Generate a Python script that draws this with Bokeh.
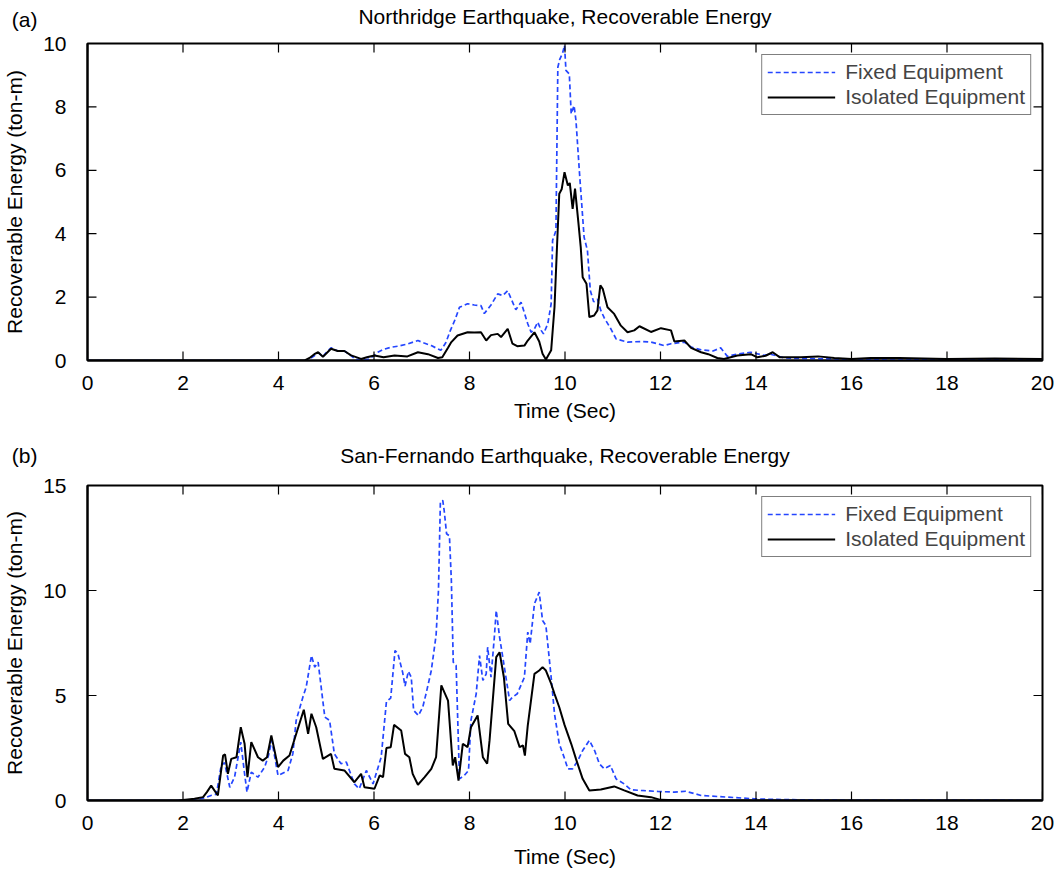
from bokeh.plotting import figure
from bokeh.models import Range1d, Legend, LegendItem, SingleIntervalTicker, FixedTicker
from bokeh.core.properties import value
from bokeh.layouts import column
from bokeh.embed import file_html
from bokeh.resources import INLINE

# ---------------- data ----------------
# (a) Northridge
north_fixed_t = [0, 4.55, 4.65, 4.75, 4.83, 4.93, 5.0, 5.1, 5.24, 5.38, 5.5, 5.6, 5.75, 5.9, 6.0, 6.08,
                 6.2, 6.36, 6.5, 6.7, 6.92, 7.05, 7.2, 7.4, 7.5, 7.6, 7.7, 7.79, 7.96, 8.1, 8.24, 8.31,
                 8.45, 8.59, 8.7, 8.8, 8.9, 8.97, 9.08, 9.15, 9.22, 9.29, 9.36, 9.43, 9.5, 9.55, 9.64,
                 9.71, 9.74, 9.81, 9.85, 9.89, 9.95, 9.99, 10.02, 10.09, 10.13, 10.19, 10.23, 10.3,
                 10.4, 10.47, 10.53, 10.6, 10.68, 10.75, 10.82, 10.96, 11.07, 11.31, 11.6, 11.8,
                 12.08, 12.22, 12.5, 12.64, 12.85, 13.1, 13.26, 13.4, 13.6, 13.89, 14.17, 14.3, 14.6,
                 15.0, 16.0, 17.0, 18.0, 19.0, 20.0]
north_fixed_e = [0.0, 0.0, 0.05, 0.15, 0.25, 0.12, 0.25, 0.40, 0.30, 0.30, 0.18, 0.05, 0.0, 0.05, 0.15, 0.26,
                 0.35, 0.42, 0.45, 0.52, 0.63, 0.55, 0.47, 0.32, 0.55, 0.95, 1.3, 1.68, 1.79, 1.75, 1.73, 1.48,
                 1.75, 2.1, 2.05, 2.2, 1.85, 1.6, 1.84, 1.5, 1.16, 0.89, 1.0, 1.21, 0.95, 0.84, 1.16,
                 1.79, 3.79, 4.1, 9.25, 9.5, 9.7, 9.94, 9.15, 9.04, 7.78, 8.04, 7.57, 5.99,
                 3.89, 3.47, 2.21, 1.85, 1.93, 1.58, 1.35, 1.0, 0.68, 0.58, 0.6, 0.58,
                 0.47, 0.53, 0.58, 0.42, 0.34, 0.3, 0.40, 0.13, 0.2, 0.26, 0.16, 0.2, 0.08,
                 0.06, 0.04, 0.05, 0.03, 0.04, 0.03]

north_iso_t = [0, 4.55, 4.65, 4.75, 4.83, 4.93, 5.0, 5.1, 5.24, 5.38, 5.52, 5.73, 5.85, 6.01, 6.2, 6.43,
               6.7, 6.92, 7.13, 7.34, 7.43, 7.55, 7.62, 7.75, 7.96, 8.1, 8.24, 8.35, 8.45, 8.59, 8.66,
               8.8, 8.9, 9.0, 9.15, 9.22, 9.36, 9.46, 9.53, 9.6, 9.71, 9.78, 9.83, 9.88, 9.93, 9.99,
               10.06, 10.1, 10.16, 10.21, 10.28, 10.33, 10.37, 10.45, 10.51, 10.61, 10.68, 10.74,
               10.79, 10.89, 11.03, 11.17, 11.31, 11.45, 11.56, 11.8, 12.01, 12.22, 12.29, 12.5,
               12.64, 12.85, 13.0, 13.19, 13.33, 13.61, 13.89, 14.03, 14.2, 14.35, 14.5, 14.94,
               15.3, 15.64, 16.0, 16.4, 17.0, 18.0, 19.0, 20.0]
north_iso_e = [0, 0, 0.08, 0.2, 0.26, 0.12, 0.22, 0.37, 0.30, 0.30, 0.16, 0.05, 0.1, 0.16, 0.10, 0.16,
               0.13, 0.26, 0.2, 0.08, 0.10, 0.4, 0.58, 0.79, 0.89, 0.88, 0.89, 0.63, 0.8, 0.84, 0.74,
               1.0, 0.53, 0.45, 0.47, 0.63, 0.89, 0.6, 0.21, 0.03, 0.32, 1.68, 3.5, 5.26, 5.4, 5.94,
               5.52, 5.6, 4.78, 5.42, 4.36, 3.57, 2.63, 2.42, 1.37, 1.42, 1.58, 2.37,
               2.26, 1.68, 1.47, 1.1, 0.89, 0.95, 1.08, 0.9, 1.02, 0.95, 0.6, 0.63,
               0.4, 0.26, 0.2, 0.08, 0.05, 0.16, 0.2, 0.1, 0.15, 0.26, 0.1, 0.1,
               0.13, 0.08, 0.05, 0.08, 0.08, 0.05, 0.06, 0.05]

# (b) San Fernando
sanf_fixed_t = [0, 1.9, 2.1, 2.3, 2.45, 2.6, 2.7, 2.8, 2.87, 2.98, 3.08, 3.21, 3.29, 3.34, 3.43, 3.57,
                3.71, 3.79, 3.86, 3.99, 4.2, 4.3, 4.37, 4.51, 4.58, 4.69, 4.76, 4.83, 4.97, 5.07,
                5.17, 5.31, 5.42, 5.59, 5.69, 5.84, 5.98, 6.15, 6.26, 6.35, 6.44, 6.5, 6.6, 6.65,
                6.72, 6.78, 6.83, 6.93, 7.02, 7.09, 7.2, 7.3, 7.35, 7.39, 7.44, 7.47, 7.52, 7.58,
                7.62, 7.66, 7.72, 7.79, 7.89, 7.98, 8.03, 8.14, 8.21, 8.28, 8.35, 8.38, 8.45, 8.52,
                8.56, 8.63, 8.73, 8.84, 8.9, 9.0, 9.15, 9.22, 9.27, 9.36, 9.46, 9.53, 9.6, 9.71,
                9.78, 9.88, 9.99, 10.06, 10.16, 10.27, 10.37, 10.51, 10.62, 10.72, 10.82, 10.95,
                11.07, 11.24, 11.38, 11.59, 11.94, 12.29, 12.53, 12.85, 13.4, 13.96, 14.4, 15.0,
                16.0, 20.0]
sanf_fixed_e = [0, 0, 0.03, 0.05, 0.12, 0.25, 0.3, 1.67, 1.8, 0.63, 1.11, 2.78, 1.27, 0.4, 1.35, 1.11,
                1.59, 2.14, 2.86, 1.19, 1.43, 2.22, 3.81, 4.92, 5.4, 6.9, 6.35, 6.59, 3.97, 3.81,
                2.22, 1.75, 1.83, 0.79, 0.56, 1.43, 0.79, 2.06, 4.7, 4.88, 7.14, 7.0, 6.1, 5.45,
                6.15, 5.87, 4.29, 4.05, 4.44, 5.08, 6.19, 7.86, 10.0, 14.2, 14.29, 13.8, 12.7, 12.6,
                10.48, 6.59, 6.43, 1.03, 1.19, 1.43, 3.81, 5.08, 6.9, 5.72, 6.03, 7.3, 5.87, 7.78,
                9.05, 7.78, 6.35, 4.76, 4.92, 5.08, 5.87, 8.02, 7.46, 9.37, 9.92, 8.57, 8.33, 5.87,
                4.13, 2.7, 2.0, 1.51, 1.51, 1.9, 2.38, 2.86, 2.38, 1.75, 1.51, 1.67,
                1.03, 0.79, 0.51, 0.48, 0.43, 0.4, 0.44, 0.24, 0.16, 0.08, 0.05, 0.03,
                0.01, 0.0]

sanf_iso_t = [0, 1.9, 2.1, 2.24, 2.42, 2.5, 2.59, 2.73, 2.84, 2.88, 2.94, 3.01, 3.12, 3.21, 3.29, 3.35,
              3.43, 3.57, 3.67, 3.76, 3.85, 3.99, 4.1, 4.23, 4.37, 4.53, 4.62, 4.69, 4.79, 4.93, 5.1,
              5.17, 5.38, 5.59, 5.73, 5.8, 6.01, 6.12, 6.19, 6.26, 6.35, 6.42, 6.57, 6.65, 6.74,
              6.81, 6.92, 7.06, 7.2, 7.3, 7.41, 7.55, 7.65, 7.7, 7.77, 7.86, 7.96, 8.03, 8.17, 8.28,
              8.37, 8.42, 8.56, 8.63, 8.72, 8.81, 8.94, 9.05, 9.12, 9.16, 9.22, 9.36, 9.46, 9.53,
              9.6, 9.71, 9.78, 9.88, 9.99, 10.13, 10.23, 10.37, 10.51, 10.75, 11.03, 11.24, 11.52,
              11.8, 12.0, 12.5, 20.0]
sanf_iso_e = [0, 0, 0.05, 0.08, 0.16, 0.4, 0.71, 0.24, 2.14, 2.2, 1.27, 1.98, 2.06, 3.49, 2.7, 1.11,
              2.78, 2.06, 1.9, 2.06, 3.1, 1.59, 1.9, 2.14, 3.17, 4.32, 3.17, 4.13, 3.49, 1.98, 2.22,
              1.51, 1.43, 0.87, 1.27, 0.63, 0.56, 1.2, 1.11, 2.5, 2.54, 3.6, 3.33, 2.22, 2.06,
              1.27, 0.75, 1.11, 1.51, 2.06, 5.48, 4.76, 1.67, 2.06, 0.95, 2.7, 2.54, 3.49, 4.05, 2.06,
              1.75, 2.86, 6.83, 7.06, 5.87, 3.65, 3.3, 2.54, 2.62, 2.14, 3.57, 6.03, 6.19, 6.35,
              6.19, 5.56, 5.08, 4.44, 3.6, 2.7, 1.98, 1.03, 0.48, 0.52, 0.67, 0.48, 0.24,
              0.16, 0.03, 0.0, 0.0]

x_ticks = [0, 2, 4, 6, 8, 10, 12, 14, 16, 18, 20]
north_y_ticks = [0, 2, 4, 6, 8, 10]
sanf_y_ticks = [0, 5, 10, 15]
series_names = ["Fixed Equipment", "Isolated Equipment"]
titles = ["Northridge Earthquake, Recoverable Energy", "San-Fernando Earthquake, Recoverable Energy"]
panel_tags = ["(a)", "(b)"]

FONT = "Liberation Sans"
FS = "21px"
BLUE = "#2446ff"
W = 1064
BL, BR = 86, 22          # left / right borders of the plot frames
TICK = 9                 # inward tick length, px
NAN = float("nan")


def make_header(title, tag, height, btop, title_y):
    """Title strip above a panel: centred title; the panel tag sits in the left border."""
    h = figure(width=W, height=height, output_backend="svg", toolbar_location=None,
               x_range=Range1d(BL, W - BR), y_range=Range1d(0, height - btop),
               x_axis_location=None, y_axis_location="left",
               min_border_left=BL, min_border_right=BR,
               min_border_top=btop, min_border_bottom=0)
    h.grid.visible = False
    h.outline_line_color = None
    h.background_fill_color = "white"
    h.border_fill_color = "white"
    ax = h.yaxis[0]
    ax.ticker = FixedTicker(ticks=[])
    ax.axis_line_color = None
    ax.major_tick_line_color = None
    ax.minor_tick_line_color = None
    ax.major_tick_out = 0
    ax.major_label_standoff = 0
    ax.axis_label = tag
    ax.axis_label_orientation = "horizontal"
    ax.axis_label_standoff = 50
    ax.axis_label_text_font = FONT
    ax.axis_label_text_font_size = FS
    ax.axis_label_text_font_style = "normal"
    ax.axis_label_text_color = "#000000"
    h.text(x=[(BL + W - BR) / 2], y=[height - title_y], text=[title],
           text_font=value(FONT), text_font_size=FS, text_align="center",
           text_baseline="middle", text_color="#000000")
    return h


def make_panel(tf, ef, ti, ei, yticks, height, btop, bbottom, xlabel_standoff):
    xmin, xmax = x_ticks[0], x_ticks[-1]
    ymin, ymax = yticks[0], yticks[-1]
    p = figure(width=W, height=height, output_backend="svg", toolbar_location=None,
               x_range=Range1d(xmin, xmax), y_range=Range1d(ymin, ymax),
               min_border_left=BL, min_border_right=BR, min_border_top=btop, min_border_bottom=bbottom)
    p.grid.visible = False
    p.background_fill_color = "white"
    p.border_fill_color = "white"
    p.outline_line_color = "black"
    p.outline_line_width = 2

    p.xaxis.ticker = SingleIntervalTicker(interval=x_ticks[1] - x_ticks[0])
    p.yaxis.ticker = SingleIntervalTicker(interval=yticks[1] - yticks[0])
    for ax in (p.xaxis[0], p.yaxis[0]):
        ax.major_tick_in = 0
        ax.major_tick_out = 0
        ax.minor_tick_line_color = None
        ax.axis_line_width = 2
        ax.axis_line_color = "black"
        ax.major_label_text_font = FONT
        ax.major_label_text_font_size = FS
        ax.major_label_text_color = "#000000"
        ax.axis_label_text_font = FONT
        ax.axis_label_text_font_size = FS
        ax.axis_label_text_font_style = "normal"
        ax.axis_label_text_color = "#000000"
    p.xaxis.axis_label = "Time (Sec)"
    p.yaxis.axis_label = "Recoverable Energy (ton-m)"
    p.xaxis.major_label_standoff = 11
    p.xaxis.axis_label_standoff = xlabel_standoff
    p.yaxis.major_label_standoff = 17
    p.yaxis.axis_label_standoff = 14

    rf = p.line(tf, ef, line_color=BLUE, line_width=1.7, line_dash="5 3")
    ri = p.line(ti, ei, line_color="black", line_width=2)

    # inward tick marks on all four sides (TICK px long), one broken polyline
    frame_w = W - BL - BR
    frame_h = height - btop - bbottom
    dx = TICK * (xmax - xmin) / frame_w
    dy = TICK * (ymax - ymin) / frame_h
    tx, ty = [], []
    for t in x_ticks:
        tx += [t, t, NAN, t, t, NAN]
        ty += [ymin, ymin + dy, NAN, ymax, ymax - dy, NAN]
    for v in yticks:
        tx += [xmin, xmin + dx, NAN, xmax, xmax - dx, NAN]
        ty += [v, v, NAN, v, v, NAN]
    p.line(tx, ty, line_color="#000000", line_width=1.2)

    legend = Legend(items=[LegendItem(label=series_names[0], renderers=[rf]),
                           LegendItem(label=series_names[1], renderers=[ri])],
                    location="top_right")
    legend.label_text_font = FONT
    legend.label_text_font_size = FS
    legend.glyph_width = 68
    legend.glyph_height = 22
    legend.label_standoff = 10
    legend.padding = 5
    legend.spacing = 1
    legend.margin = 11
    legend.border_line_color = "black"
    legend.border_line_width = 1
    legend.background_fill_alpha = 1
    p.add_layout(legend, "center")
    return p


h1 = make_header(titles[0], panel_tags[0], 32, 6, 16)
p1 = make_panel(north_fixed_t, north_fixed_e, north_iso_t, north_iso_e, north_y_ticks, 400, 11, 72, 6)
h2 = make_header(titles[1], panel_tags[1], 40, 6, 23)
p2 = make_panel(sanf_fixed_t, sanf_fixed_e, sanf_iso_t, sanf_iso_e, sanf_y_ticks, 400, 13, 72, 12)

layout = column(h1, p1, h2, p2)
open("out.html", "w").write(file_html(layout, INLINE))
